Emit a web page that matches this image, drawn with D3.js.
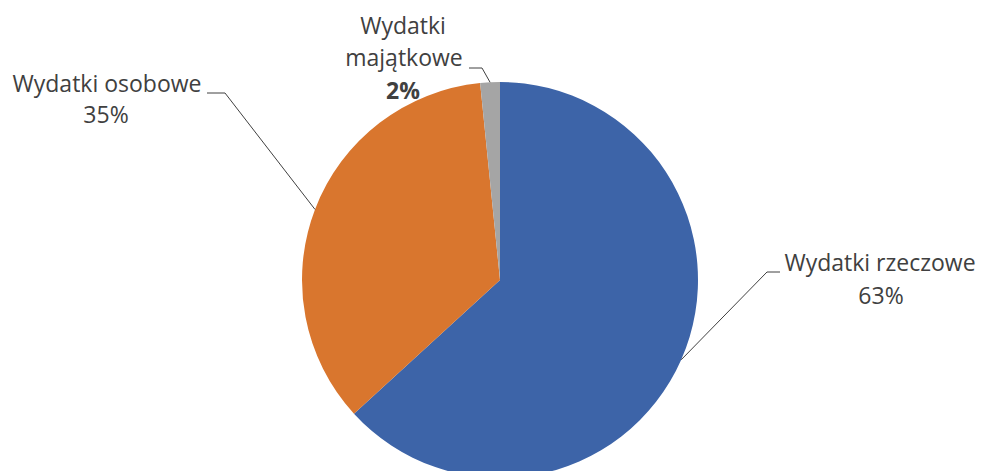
<!DOCTYPE html>
<meta charset="utf-8">
<style>
    body { margin: 0; background: #fff; }
    text {
        font-family: "Open Sans", "Noto Sans", sans-serif;
        font-size: 23px;
        fill: #404040;
    }
    .leader { fill: none; stroke: #404040; stroke-width: 1; }
</style>

<svg width="984" height="471"></svg>

<script src="https://d3js.org/d3.v7.min.js"></script>
<script>
    // data
    var categories = ["Wydatki rzeczowe", "Wydatki osobowe", "Wydatki majątkowe"];
    var shares = [63.2, 35.2, 1.6];
    var colors = ["#3d64a8", "#d9762e", "#a5a5a5"];

    var svg = d3.select("svg"),
        cx = 500, cy = 280, r = 198;

    var pie = d3.pie().sort(null).value(function (d) { return d.v; });
    var arc = d3.arc().innerRadius(0).outerRadius(r);

    var rows = categories.map(function (c, i) { return { name: c, v: shares[i], color: colors[i] }; });
    var arcs = pie(rows);

    var g = svg.append("g").attr("transform", "translate(" + cx + "," + cy + ")");

    g.selectAll("path")
        .data(arcs)
        .enter().append("path")
        .attr("d", arc)
        .attr("fill", function (d) { return d.data.color; });

    // label layout: elbow point (abs), text lines
    var layout = [
        { elbow: [767, 272], hEnd: 780, lines: [
            { t: "Wydatki rzeczowe", x: 880, y: 271 },
            { t: "63%", x: 881, y: 304 } ] },
        { elbow: [225, 93], hEnd: 207, lines: [
            { t: "Wydatki osobowe", x: 107, y: 92 },
            { t: "35%", x: 106, y: 123 } ] },
        { elbow: [482, 68], hEnd: 469, lines: [
            { t: "Wydatki", x: 403, y: 34 },
            { t: "majątkowe", x: 404, y: 66 },
            { t: "2%", x: 403, y: 99, bold: true } ] }
    ];

    arcs.forEach(function (a, i) {
        var L = layout[i];
        var mid = (a.startAngle + a.endAngle) / 2;
        var px = cx + r * Math.sin(mid), py = cy - r * Math.cos(mid);
        svg.append("path")
            .attr("class", "leader")
            .attr("d", d3.line()([[px, py], L.elbow, [L.hEnd, L.elbow[1]]]));
        L.lines.forEach(function (ln) {
            svg.append("text")
                .attr("x", ln.x)
                .attr("y", ln.y)
                .attr("text-anchor", "middle")
                .attr("font-weight", ln.bold ? "bold" : null)
                .text(ln.t);
        });
    });
</script>
